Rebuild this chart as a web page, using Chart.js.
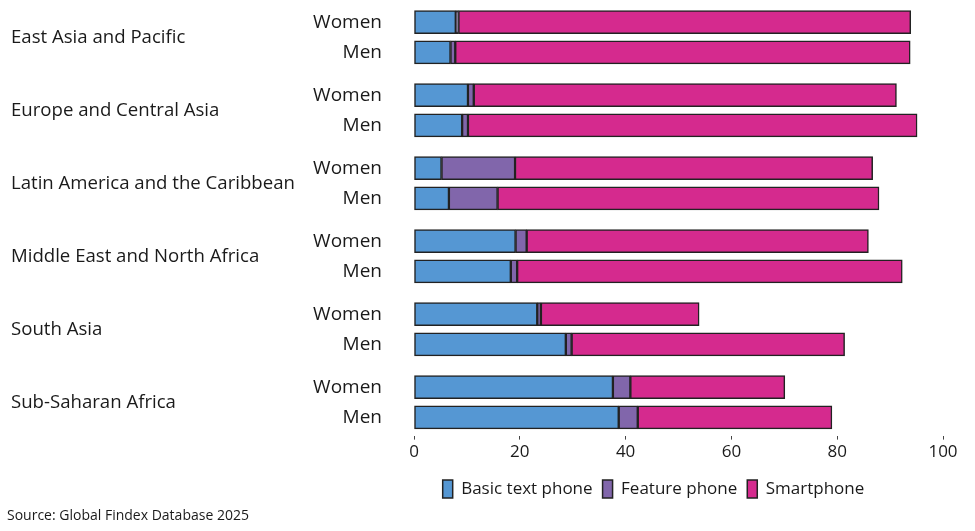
<!DOCTYPE html>
<html>
<head>
<meta charset="utf-8">
<script src="https://cdn.jsdelivr.net/npm/chart.js@4.4.0/dist/chart.umd.min.js"></script>
<style>
  html, body { margin: 0; padding: 0; background: #ffffff; }
  #wrap { width: 975px; height: 531px; }
</style>
</head>
<body>
<div id="wrap"><canvas id="c" width="975" height="531"></canvas></div>
<script>
// ---- data ----
const regions = [
  'East Asia and Pacific',
  'Europe and Central Asia',
  'Latin America and the Caribbean',
  'Middle East and North Africa',
  'South Asia',
  'Sub-Saharan Africa'
];
const genders = ['Women', 'Men'];
// order: region0 Women, region0 Men, region1 Women, ...
const basicTextPhone = [7.9, 6.9, 10.2, 9.1, 5.2, 6.6, 19.2, 18.3, 23.3, 28.7, 37.6, 38.7];
const featurePhone   = [0.5, 0.9, 1.1, 1.1, 13.9, 9.2, 2.1, 1.2, 0.7, 1.1, 3.3, 3.6];
const smartphone     = [85.5, 86.0, 79.9, 84.9, 67.6, 72.1, 64.6, 72.8, 29.9, 51.6, 29.2, 36.7];
const seriesNames = ['Basic text phone', 'Feature phone', 'Smartphone'];
const xTicks = [0, 20, 40, 60, 80, 100];
const sourceText = 'Source: Global Findex Database 2025';

// ---- layout helpers ----
const GROUP_STEP = 2.4175;
function pos(i) { return Math.floor(i / 2) * GROUP_STEP + (i % 2); }
function toPoints(arr) { return arr.map((v, i) => ({ x: v, y: pos(i) })); }

const FONT = '"Open Sans", "DejaVu Sans", sans-serif';
const TEXT = '#1a1a1a';

const sideLabels = {
  id: 'sideLabels',
  afterDraw(chart) {
    const ctx = chart.ctx, y = chart.scales.y;
    ctx.save();
    ctx.fillStyle = TEXT;
    ctx.textBaseline = 'middle';
    regions.forEach((r, g) => {
      const yw = y.getPixelForValue(pos(g * 2));
      const ym = y.getPixelForValue(pos(g * 2 + 1));
      ctx.font = '18.6px ' + FONT;
      ctx.textAlign = 'left';
      ctx.fillText(r, 11, (yw + ym) / 2);
      ctx.font = '19px ' + FONT;
      ctx.textAlign = 'right';
      ctx.fillText(genders[0], 382, yw);
      ctx.fillText(genders[1], 382, ym);
    });
    ctx.font = '14px ' + FONT;
    ctx.textAlign = 'left';
    ctx.fillText(sourceText, 7, 516);
    ctx.restore();
  }
};

const colors = ['#5597d3', '#8166ab', '#d52a8e'];
const seriesData = [basicTextPhone, featurePhone, smartphone];

new Chart(document.getElementById('c'), {
  type: 'bar',
  data: {
    datasets: seriesNames.map((name, k) => ({
      label: name,
      data: toPoints(seriesData[k]),
      backgroundColor: colors[k],
      borderColor: '#222222',
      borderWidth: 1.5,
      borderSkipped: false,
      barThickness: 23
    }))
  },
  options: {
    indexAxis: 'y',
    responsive: false,
    animation: false,
    layout: { padding: { left: 364, right: 32, top: 0, bottom: 23 } },
    scales: {
      x: {
        type: 'linear',
        stacked: true,
        min: 0, max: 100,
        afterBuildTicks: s => { s.ticks = xTicks.map(v => ({ value: v })); },
        afterFit: s => { s.paddingLeft = 0; s.paddingRight = 0; s.height += 6; },
        ticks: { color: TEXT, font: { family: FONT, size: 17 }, padding: 2 },
        grid: { display: true, drawOnChartArea: false, drawTicks: true, tickLength: 4, color: '#444' },
        border: { display: false }
      },
      y: {
        type: 'linear',
        stacked: true,
        offset: false,
        reverse: true,
        min: -0.733, max: 13.69,
        ticks: { display: false },
        grid: { display: false },
        border: { display: false },
        afterFit: s => { s.width = 50; s.paddingTop = 0; s.paddingBottom = 0; }
      }
    },
    plugins: {
      legend: {
        position: 'bottom',
        labels: {
          color: TEXT,
          font: { family: FONT, size: 17 },
          boxWidth: 10,
          boxHeight: 18,
          padding: 10
        }
      },
      tooltip: { enabled: false }
    }
  },
  plugins: [sideLabels]
});
</script>
</body>
</html>
